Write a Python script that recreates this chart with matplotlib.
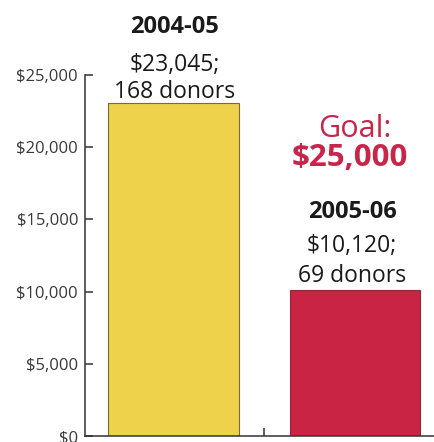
import matplotlib
matplotlib.use("Agg")
import matplotlib.pyplot as plt
from matplotlib.ticker import FuncFormatter

# Data
years = ["2004-05", "2005-06"]
amounts = [23045, 10120]
donors = [168, 69]
goal = 25000
yticks = [0, 5000, 10000, 15000, 20000, 25000]

bar_colors = ["#EFD24B", "#C92443"]
edge_colors = ["#7a6a3a", "#8a2a38"]
goal_color = "#C8254A"

plt.rcParams["font.family"] = ["Open Sans", "DejaVu Sans"]

fig = plt.figure(figsize=(4.35, 4.42), dpi=100)
fig.patch.set_facecolor("white")
ax = fig.add_axes([85 / 435, 6 / 442, 1 - 85 / 435, (436 - 75) / 442])

x = list(range(len(years)))
ax.bar(x, amounts, width=0.72, color=bar_colors, edgecolor=edge_colors, linewidth=0.8, zorder=2)

ax.set_xlim(-0.4876, 1.4408)
ax.set_ylim(0, 25000)
ax.set_yticks(yticks)
ax.yaxis.set_major_formatter(FuncFormatter(lambda v, p: f"${int(v):,}"))
ax.set_xticks([0.5])
ax.set_xticklabels([""])

for s in ["top", "right"]:
    ax.spines[s].set_visible(False)
for s in ["left", "bottom"]:
    ax.spines[s].set_color("#333333")
    ax.spines[s].set_linewidth(1.1)

ax.tick_params(axis="y", direction="in", length=6, width=1.1, color="#333333",
               labelsize=12, labelcolor="#3a3a3a", pad=5)
ax.tick_params(axis="x", direction="in", length=6, width=1.1, color="#333333")

# offsets (pixels) of baselines above bar tops
px = 0.72
label_specs = [
    # (bar index, text, offset px, weight, size, color, dx px)
    (0, f"{donors[0]} donors", 5, "normal", 16.5, "#1a1a1a", 1),
    (0, f"${amounts[0]:,};", 32, "normal", 16.5, "#1a1a1a", 1),
    (0, years[0], 70, "bold", 17, "#1a1a1a", 1),
    (1, f"{donors[1]} donors", 8, "normal", 16.5, "#1a1a1a", -3),
    (1, f"${amounts[1]:,};", 38, "normal", 16.5, "#1a1a1a", -3),
    (1, years[1], 72, "bold", 17, "#1a1a1a", -3),
    (1, f"${goal:,}", 124, "bold", 22.5, goal_color, -5),
    (1, "Goal:", 153, "normal", 22, goal_color, 0),
]
for i, txt, off, wt, sz, col, dx in label_specs:
    ax.annotate(txt, xy=(x[i], amounts[i]), xytext=(dx * px, off * px),
                textcoords="offset points", ha="center", va="baseline",
                fontsize=sz, fontweight=wt, color=col, annotation_clip=False)

fig.savefig("out.png", dpi=100, facecolor="white")
